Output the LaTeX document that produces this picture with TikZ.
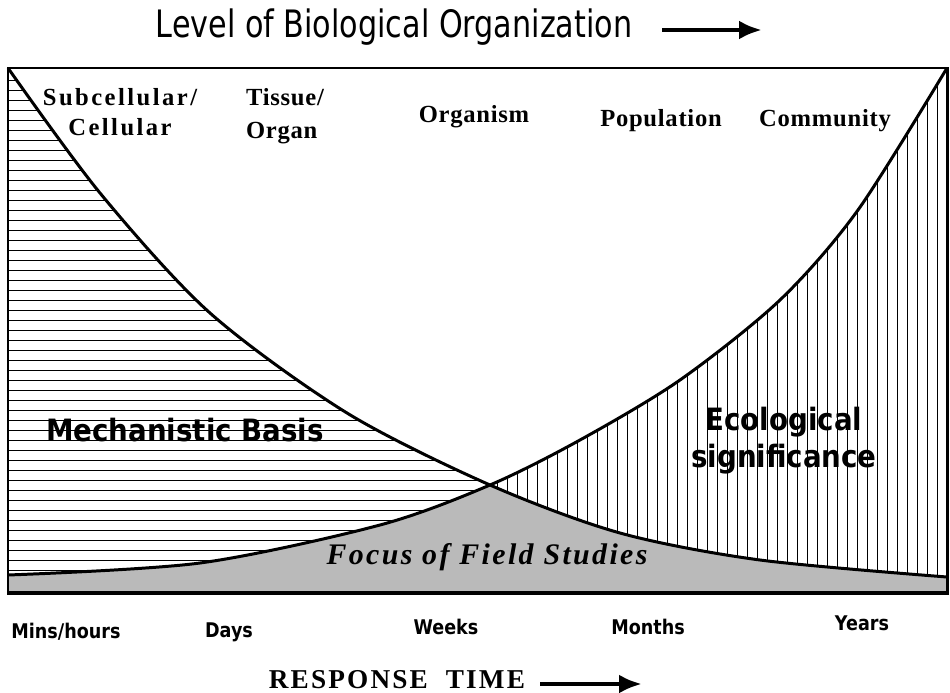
\documentclass[tikz,border=0pt]{standalone}
\usepackage{fontspec}
\usepackage{tikz}
\usetikzlibrary{arrows.meta}
\setmainfont{Liberation Serif}
\newfontfamily\labelsans[FakeStretch=0.9]{DejaVu Sans}
\newfontfamily\titlesans[FakeStretch=0.8]{DejaVu Sans}
\newfontfamily\timesans[FakeStretch=0.87]{DejaVu Sans}

\tikzset{
  curve/.style={line width=1.7pt, line join=round},
  frame/.style={line width=1.7pt},
  hatch/.style={line width=0.9pt},
  fieldgray/.style={fill=black!27},
  lvl/.style={font=\addfontfeature{LetterSpace=3}\fontsize{14}{17}\selectfont\bfseries, inner sep=0pt},
  timelbl/.style={font=\timesans\fontsize{11.5}{13}\selectfont\bfseries, inner sep=0pt},
  areatxt/.style={font=\labelsans\fontsize{17.5}{21}\selectfont\bfseries, inner sep=0pt},
  bigarrow/.style={line width=2.8pt, -{Latex[length=0.46cm,width=0.38cm]}}
}

\def\curveD{plot[smooth] coordinates {(8,68) (100,193) (210,313) (347,413) (490,485) (620,533) (760,560) (947,577)}}
\def\curveI{plot[smooth] coordinates {(8,575) (200,563) (380,525) (490,485) (580,440) (680,380) (780,300) (858,210) (947,68)}}

\begin{document}
\begin{tikzpicture}[x=0.02cm, y=-0.02cm]
\useasboundingbox (0,0) rectangle (950,693);

% grey area under both curves
\begin{scope}
  \clip \curveD -- (947,593) -- (8,593) -- cycle;
  \clip \curveI -- (947,593) -- (8,593) -- cycle;
  \fill[fieldgray] (0,60) rectangle (950,600);
\end{scope}

% horizontal hatching
\begin{scope}
  \clip \curveD -- (947,593) -- (8,593) -- cycle;
  \clip \curveI -- (947,68) -- (8,68) -- cycle;
  \foreach \y in {80.5,90.5,...,575}
    \draw[hatch] (8,\y) -- (947,\y);
\end{scope}

% vertical hatching
\begin{scope}
  \clip \curveD -- (947,68) -- cycle;
  \clip \curveI -- (947,593) -- (8,593) -- cycle;
  \foreach \x in {497.5,507.5,...,947}
    \draw[hatch] (\x,68) -- (\x,593);
\end{scope}

\draw[curve] \curveD;
\draw[curve] \curveI;
\draw[frame] (8,68) rectangle (947,593);
\draw[line width=2.3pt] (8,593) -- (947,593);

\node[font=\titlesans\fontsize{21.5}{25}\selectfont] (level) at (394,27) {Level of Biological Organization};
\coordinate (lvlA) at (662,30);
\coordinate (lvlB) at (762,30);
\draw[bigarrow] (lvlA) -- (lvlB);

\node[lvl, align=center, font=\addfontfeature{LetterSpace=10}\fontsize{14}{17}\selectfont\bfseries] (cell) at (120,112) {Subcellular/\\Cellular};
\node[lvl, align=left, font=\addfontfeature{LetterSpace=3}\fontsize{14}{19}\selectfont\bfseries] (tissue) at (285,116) {Tissue/\\Organ};
\node[lvl] (organism) at (474,117) {Organism};
\node[lvl] (population) at (661,121) {Population};
\node[lvl] (community) at (825,121) {Community};

\node[areatxt] (mech) at (185,430) {Mechanistic Basis};
\node[areatxt, align=center] (eco) at (784,441) {Ecological\\significance};
\node[inner sep=0pt, font=\addfontfeature{LetterSpace=8}\fontsize{17}{20}\selectfont\bfseries\itshape] (focus) at (487,557) {Focus of Field Studies};

\node[timelbl] (mins) at (66,632) {Mins/hours};
\node[timelbl] (days) at (229,632) {Days};
\node[timelbl] (weeks) at (446,627) {Weeks};
\node[timelbl] (months) at (648,627) {Months};
\node[timelbl] (years) at (862,623) {Years};

\node[inner sep=0pt, font=\addfontfeature{LetterSpace=8}\fontsize{15.5}{18}\selectfont\bfseries] (resp) at (397,680) {RESPONSE\ \ TIME};
\coordinate (timeA) at (540,684);
\coordinate (timeB) at (642,684);
\draw[bigarrow] (timeA) -- (timeB);
\end{tikzpicture}
\end{document}
